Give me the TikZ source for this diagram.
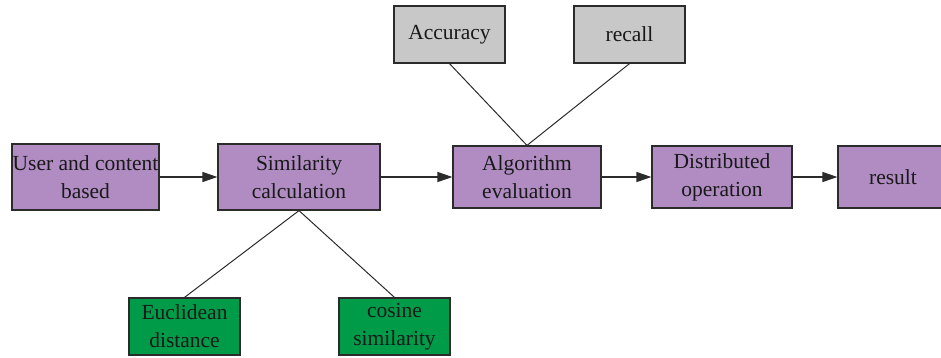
\documentclass[tikz,border=0pt]{standalone}
\usepackage{fontspec}
\setmainfont{Liberation Serif}
\usetikzlibrary{arrows.meta}
\definecolor{boxpurple}{HTML}{B08CC2}
\definecolor{boxgray}{HTML}{C8C8C8}
\definecolor{boxgreen}{HTML}{009B48}
\definecolor{edgegray}{HTML}{2B2B2B}
\begin{document}
\begin{tikzpicture}[x=1pt,y=-1pt,
  box/.style={draw=edgegray,line width=1.2pt,inner sep=0pt,align=center,
    text=black!90,font=\fontsize{21.5}{28}\selectfont},
  stage/.style={box,fill=boxpurple,minimum height=64pt},
  metric/.style={box,fill=boxgray,minimum width=111pt,minimum height=57pt},
  measure/.style={box,fill=boxgreen,minimum width=111pt,minimum height=57pt},
  flow/.style={draw=edgegray,line width=1.2pt,-{Triangle[length=15pt,width=10pt]}},
  link/.style={draw=edgegray,line width=1pt}]
\useasboundingbox (0,0) rectangle (941,357);
\node[stage,minimum width=147pt,minimum height=66pt] (user) at (85.5,177) {User and content\\based};
\node[stage,minimum width=162pt,minimum height=66pt] (simil) at (299,177) {Similarity\\calculation};
\node[stage,minimum width=148pt,minimum height=62pt] (algo) at (527,177) {Algorithm\\evaluation};
\node[stage,minimum width=140pt,minimum height=62pt] (dist) at (722,177) {Distributed\\operation};
\node[stage,minimum width=110pt,minimum height=62pt] (result) at (893,177) {result};
\node[metric] (acc) at (449.5,34.5) {Accuracy};
\node[metric] (recall) at (629.5,34.5) {recall};
\node[measure] (eucl) at (184.5,326.5) {Euclidean\\distance};
\node[measure] (cosine) at (394.5,326.5) {cosine\\similarity};
% main flow
\draw[flow] (user)--(simil);
\draw[flow] (simil)--(algo);
\draw[flow] (algo)--(dist);
\draw[flow] (dist)--(result);
% branches
\draw[link] (acc.south)--(algo.north);  \draw[link] (recall.south)--(algo.north);
\draw[link] (simil.south)--(eucl.north);  \draw[link] (simil.south)--(cosine.north);
\end{tikzpicture}
\end{document}
